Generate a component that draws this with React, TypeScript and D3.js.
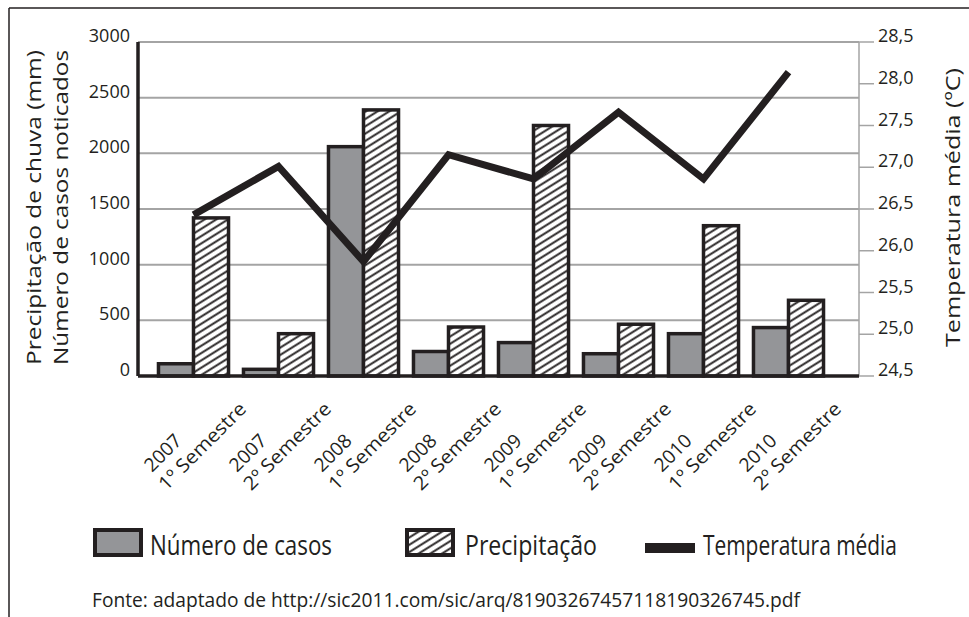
import React from "react";
import * as d3 from "d3";

// ---- data ----
const years = ["2007", "2007", "2008", "2008", "2009", "2009", "2010", "2010"];
const semesters = ["1º Semestre", "2º Semestre", "1º Semestre", "2º Semestre", "1º Semestre", "2º Semestre", "1º Semestre", "2º Semestre"];
const casos = [110, 60, 2060, 220, 300, 200, 380, 435];
const precipitacao = [1420, 380, 2390, 440, 2250, 465, 1350, 680];
const temperatura = [26.43, 27.01, 25.87, 27.15, 26.86, 27.66, 26.86, 28.14];
const leftTicks = [0, 500, 1000, 1500, 2000, 2500, 3000];
const rightTicks = [24.5, 25.0, 25.5, 26.0, 26.5, 27.0, 27.5, 28.0, 28.5];
const seriesKeys = ["casos", "precipitacao"];

const W = 969;
const H = 617;
const FONT = "'Open Sans', 'Noto Sans', sans-serif";
const INK = "#231f20";
const GRID = "#a4a4a4";
const GRAY = "#949598";

export default function App() {
  const categories = years.map((y, i) => `${y} ${semesters[i]}`);
  const axisLeftX = 138;
  const axisRightX = 859;
  const top = 42;
  const base = 376;

  const x = d3
    .scaleBand<string>()
    .domain(categories)
    .range([151, 831])
    .paddingInner(0.176)
    .paddingOuter(0.088);
  const xs = d3.scaleBand<string>().domain(seriesKeys).range([0, x.bandwidth()]).padding(0);
  const yL = d3.scaleLinear().domain([0, 3000]).range([base, top]);
  const yR = d3.scaleLinear().domain([24.5, 28.5]).range([base, top]);

  const center = (i: number) => (x(categories[i]) as number) + x.bandwidth() / 2;

  const line = d3
    .line<number>()
    .x((_, i) => center(i))
    .y((d) => yR(d));

  const fmt = (v: number) => v.toFixed(1).replace(".", ",");

  return (
    <svg
      width={W}
      height={H}
      viewBox={`0 0 ${W} ${H}`}
      style={{ position: "absolute", left: 0, top: 0, display: "block", background: "#fff" }}
      fontFamily={FONT}
    >
      <defs>
        <pattern
          id="hatch"
          patternUnits="userSpaceOnUse"
          width={12}
          height={6.2}
          patternTransform="rotate(-32)"
        >
          <rect width={12} height={6.2} fill="#fff" />
          <line x1={0} x2={12} y1={3.1} y2={3.1} stroke={INK} strokeWidth={1.9} />
        </pattern>
      </defs>

      {/* frame */}
      <line x1={9} x2={969} y1={8} y2={8} stroke={INK} strokeWidth={1.5} />
      <line x1={9} x2={9} y1={8} y2={617} stroke={INK} strokeWidth={1.5} />

      {/* gridlines */}
      {leftTicks.filter((t) => t > 0).map((t) => (
        <line key={t} x1={axisLeftX} x2={axisRightX} y1={yL(t)} y2={yL(t)} stroke={GRID} strokeWidth={2} />
      ))}

      {/* right axis */}
      <line x1={axisRightX} x2={axisRightX} y1={top} y2={base} stroke={GRID} strokeWidth={1.5} />
      {rightTicks.map((t) => (
        <g key={t}>
          <line x1={axisRightX} x2={axisRightX + 15} y1={yR(t)} y2={yR(t)} stroke={GRID} strokeWidth={1.5} />
          <text x={878} y={yR(t)} fontSize={18} fill={INK}>
            {fmt(t)}
          </text>
        </g>
      ))}

      {/* left tick labels */}
      {leftTicks.map((t) => (
        <text key={t} x={130} y={yL(t)} fontSize={18} fill={INK} textAnchor="end">
          {t}
        </text>
      ))}

      {/* bars */}
      {categories.map((c, i) => {
        const x0 = x(c) as number;
        return (
          <g key={c}>
            <rect
              x={x0 + (xs("casos") as number)}
              y={yL(casos[i])}
              width={xs.bandwidth()}
              height={base - yL(casos[i])}
              fill={GRAY}
              stroke={INK}
              strokeWidth={3.5}
            />
            <rect
              x={x0 + (xs("precipitacao") as number)}
              y={yL(precipitacao[i])}
              width={xs.bandwidth()}
              height={base - yL(precipitacao[i])}
              fill="url(#hatch)"
              stroke={INK}
              strokeWidth={3.5}
            />
          </g>
        );
      })}

      {/* axes */}
      <line x1={axisLeftX} x2={axisLeftX} y1={top} y2={base} stroke={INK} strokeWidth={3.5} />
      <line x1={axisLeftX} x2={axisRightX} y1={base} y2={base} stroke={INK} strokeWidth={3.5} />

      {/* temperature line */}
      <path
        d={line(temperatura) as string}
        fill="none"
        stroke={INK}
        strokeWidth={7}
        strokeLinejoin="miter"
        strokeLinecap="butt"
      />

      {/* x labels */}
      {categories.map((c, i) => (
        <g key={c} transform={`translate(${center(i) - 41.5},473) rotate(-45)`}>
          <text x={0} y={0} fontSize={19} fill={INK} textLength={44} lengthAdjust="spacingAndGlyphs">
            {years[i]}
          </text>
          <text x={-3} y={23} fontSize={19} fill={INK} textLength={115} lengthAdjust="spacingAndGlyphs">
            {semesters[i]}
          </text>
        </g>
      ))}

      {/* axis titles */}
      <text
        transform={`translate(41,207.5) rotate(-90)`}
        textAnchor="middle"
        fontSize={20}
        fill={INK}
        textLength={315}
        lengthAdjust="spacingAndGlyphs"
      >
        Precipitação de chuva (mm)
      </text>
      <text
        transform={`translate(68,207.5) rotate(-90)`}
        textAnchor="middle"
        fontSize={20}
        fill={INK}
        textLength={315}
        lengthAdjust="spacingAndGlyphs"
      >
        Número de casos noticados
      </text>
      <text
        transform={`translate(960,207.5) rotate(-90)`}
        textAnchor="middle"
        fontSize={20}
        fill={INK}
        textLength={279}
        lengthAdjust="spacingAndGlyphs"
      >
        Temperatura média (ºC)
      </text>

      {/* legend */}
      <rect x={95} y={530} width={46} height={25} fill={GRAY} stroke={INK} strokeWidth={4} />
      <text x={150} y={555} fontSize={28} fill={INK} textLength={182} lengthAdjust="spacingAndGlyphs">
        Número de casos
      </text>
      <rect x={407} y={530} width={46} height={25} fill="url(#hatch)" stroke={INK} strokeWidth={4} />
      <text x={465} y={555} fontSize={28} fill={INK} textLength={132} lengthAdjust="spacingAndGlyphs">
        Precipitação
      </text>
      <rect x={645} y={543} width={50} height={10} fill={INK} />
      <text x={703} y={555} fontSize={28} fill={INK} textLength={194} lengthAdjust="spacingAndGlyphs">
        Temperatura média
      </text>

      {/* source */}
      <text x={92} y={607} fontSize={20} fill={INK} textLength={708} lengthAdjust="spacingAndGlyphs">
        Fonte: adaptado de http://sic2011.com/sic/arq/81903267457118190326745.pdf
      </text>
    </svg>
  );
}
